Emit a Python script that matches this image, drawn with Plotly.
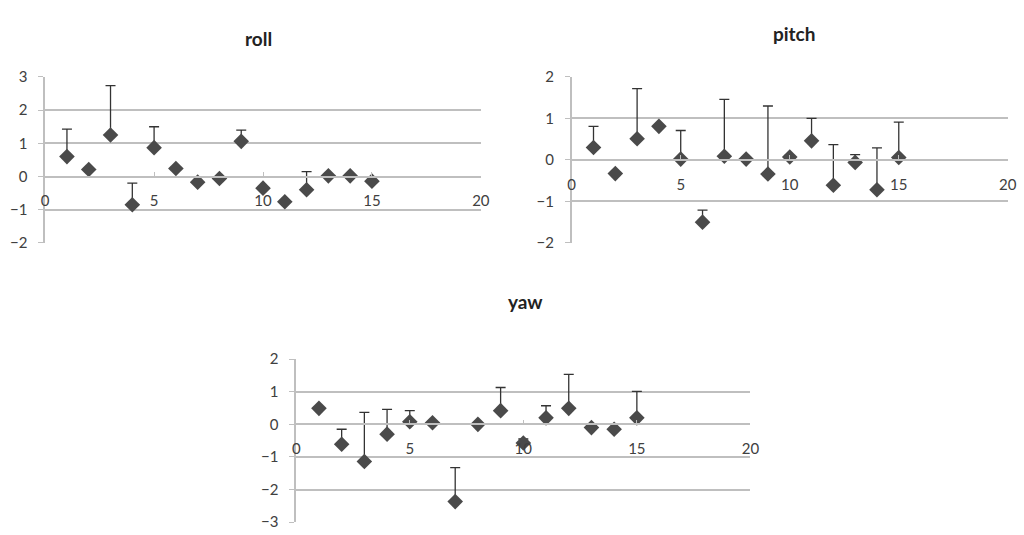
import plotly.graph_objects as go

# ---- data ----
x_vals = list(range(1, 16))

roll_y = [0.60, 0.21, 1.25, -0.85, 0.87, 0.24, -0.17, -0.06, 1.06, -0.35, -0.76, -0.40, 0.02, 0.02, -0.14]
roll_top = [1.43, 0.25, 2.74, -0.20, 1.50, 0.28, -0.13, -0.02, 1.40, -0.31, -0.72, 0.15, 0.06, 0.06, -0.10]

pitch_y = [0.30, -0.33, 0.51, 0.81, 0.02, -1.50, 0.09, 0.02, -0.34, 0.07, 0.46, -0.61, -0.06, -0.72, 0.06]
pitch_top = [0.81, -0.29, 1.72, 0.85, 0.71, -1.21, 1.46, 0.06, 1.30, 0.11, 1.00, 0.37, 0.13, 0.29, 0.91]

yaw_y = [0.49, -0.61, -1.14, -0.30, 0.08, 0.05, -2.37, 0.00, 0.42, -0.57, 0.20, 0.49, -0.10, -0.15, 0.20]
yaw_top = [0.53, -0.15, 0.37, 0.46, 0.42, 0.09, -1.33, 0.04, 1.13, -0.45, 0.57, 1.53, -0.06, -0.11, 1.01]

titles = ["roll", "pitch", "yaw"]
x_ticks = [0, 5, 10, 15, 20]

# ---- layout geometry (paper coords) ----
W, H = 1024, 535
panels = [
    dict(y=roll_y, top=roll_top, yr=[-2, 3],
         xd=[41.7 / W, 483 / W], yd=[1 - 241 / H, 1 - 69.3 / H], title_xy=(257.5, 30)),
    dict(y=pitch_y, top=pitch_top, yr=[-2, 2],
         xd=[575 / W, 1016.7 / W], yd=[1 - 241 / H, 1 - 69.3 / H], title_xy=(800, 24)),
    dict(y=yaw_y, top=yaw_top, yr=[-3, 2],
         xd=[296 / W, 756 / W], yd=[1 - 530 / H, 1 - 361.3 / H], title_xy=(528, 302)),
]

GRID = "#bfbfbf"
TXT = "#404040"
FONT = "Lato"

fig = go.Figure()
layout = dict(
    width=W, height=H, margin=dict(l=0, r=0, t=0, b=0),
    paper_bgcolor="white", plot_bgcolor="white", showlegend=False,
    font=dict(family=FONT, size=15, color=TXT),
)
annotations = []
for i, p in enumerate(panels):
    n = "" if i == 0 else str(i + 1)
    err = [t - v for t, v in zip(p["top"], p["y"])]
    fig.add_trace(go.Scatter(
        x=x_vals, y=p["y"], mode="markers",
        marker=dict(symbol="diamond", size=12, color="#4a4a4a"),
        error_y=dict(type="data", symmetric=False, array=err,
                     arrayminus=[0] * len(err), color="#333333",
                     thickness=1.3, width=5),
        xaxis="x" + n, yaxis="y" + n,
    ))
    y0, y1 = p["yd"]
    lo, hi = p["yr"]
    pos = y0 + (0 - lo) / (hi - lo) * (y1 - y0)
    layout["xaxis" + n] = dict(
        domain=p["xd"], range=[0, 20], anchor="free", position=pos,
        tickvals=x_ticks, showgrid=False, zeroline=False,
        showline=True, linecolor=GRID, linewidth=1.5,
        ticks="inside", ticklen=4, tickcolor=GRID,
        ticklabelstandoff=11, tickfont=dict(size=15, color=TXT),
        fixedrange=True,
    )
    layout["yaxis" + n] = dict(
        domain=p["yd"], range=p["yr"], anchor="x" + n, dtick=1,
        showgrid=True, gridcolor=GRID, gridwidth=1.5, zeroline=False,
        showline=True, linecolor=GRID, linewidth=1.5,
        ticks="outside", ticklen=5, tickcolor=GRID,
        ticklabelstandoff=8, tickfont=dict(size=15, color=TXT),
        fixedrange=True,
    )
    tx, ty = p["title_xy"]
    annotations.append(dict(
        text="<b>" + titles[i] + "</b>", x=tx / W, y=1 - ty / H,
        xref="paper", yref="paper", showarrow=False,
        xanchor="center", yanchor="middle",
        font=dict(family=FONT, size=19, color="#222222"),
    ))
layout["annotations"] = annotations
fig.update_layout(**layout)
fig.write_html(
    "out.html",
    config={"displayModeBar": False},
    post_script="document.body.style.margin='0';document.body.style.overflow='hidden';",
)
